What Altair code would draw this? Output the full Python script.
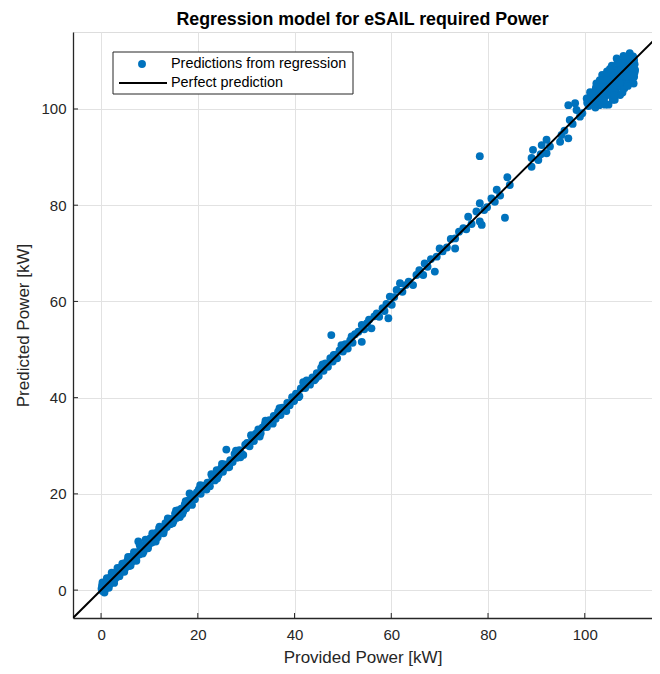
import altair as alt
import pandas as pd

# ---- data (Provided kW, Predicted kW) ----
seg_0_10 = [(0.1,0.3),(0.2,0.9),(0.3,-0.2),(0.4,0.5),(0.5,1.2),(0.6,0.1),(0.8,0.7),(0.9,1.5),(1.0,0.4),(1.1,1.0),
            (1.3,1.8),(1.4,0.8),(1.5,1.3),(1.7,2.4),(1.8,1.2),(2.0,2.0),(2.1,2.9),(2.3,1.7),(2.5,2.6),(2.6,3.4),
            (2.8,2.2),(3.0,3.1),(3.2,3.8),(3.3,2.7),(3.5,3.4),(3.7,4.3),(3.9,3.5),(4.1,4.0),(4.3,4.9),(4.5,3.9),
            (4.7,4.6),(4.9,5.6),(5.1,4.7),(5.3,5.4),(5.5,6.2),(5.8,5.0),(6.0,6.1),(6.2,6.9),(6.5,6.0),(6.7,6.8),
            (7.0,7.5),(7.2,6.6),(7.5,7.9),(7.7,10.1),(7.9,7.4),(8.2,8.6),(8.5,9.1),(8.8,8.0),(9.0,9.4),(9.3,8.9),
            (9.6,10.2),(9.9,9.5),
            (0.3,1.6),(0.7,-0.5),(1.2,2.5),(1.6,0.5),(2.2,3.6),(2.7,1.5),(3.4,4.6),(3.8,2.9),(4.4,5.5),(4.8,3.8),
            (5.6,6.9),(6.1,5.1),(6.8,7.9),(7.3,6.1),(8.0,9.3),(8.6,7.6),(9.2,10.5),(9.7,8.7)]
seg_10_30 = [(10.2,10.8),(10.5,9.9),(10.8,11.1),(11.1,10.5),(11.4,11.9),(11.7,11.0),(12.1,13.2),(12.4,12.0),
             (12.7,12.9),(13.0,12.4),(13.3,13.9),(13.6,13.1),(14.0,14.5),(14.3,13.7),(14.6,14.8),(15.0,14.4),
             (15.3,15.9),(15.6,15.0),(16.0,16.6),(16.3,15.2),(16.6,16.9),(17.0,16.4),(17.3,17.8),(17.6,17.0),
             (18.0,18.6),(18.3,20.1),(18.6,18.1),(19.0,19.5),(19.4,18.9),(19.8,20.3),
             (20.2,20.9),(20.6,20.0),(21.0,21.7),(21.5,21.1),(22.0,22.3),(22.5,21.6),(23.0,23.5),(23.5,22.8),
             (23.9,24.9),(24.3,23.9),(24.8,25.3),(25.2,24.6),(25.6,26.1),(25.9,29.2),(26.2,25.5),(26.7,27.0),
             (27.2,26.6),(27.6,28.3),(28.1,27.5),(28.6,29.1),(29.0,28.4),(29.4,28.1),(29.8,30.2),
             (10.6,11.8),(11.3,10.1),(12.0,12.8),(12.9,11.8),(13.8,14.9),(14.8,13.9),(15.5,16.5),(16.8,15.8),
             (17.5,18.5),(18.8,17.7),(20.5,21.8),(21.8,20.9),(22.8,24.1),(24.0,23.2),(25.0,26.2),(26.5,25.6),
             (27.9,29.0),(28.8,27.6)]
seg_30_60 = [(30.2,30.6),(30.7,29.9),(31.2,31.8),(31.6,31.0),(32.0,32.5),(32.5,33.4),(33.0,32.6),(33.4,33.8),
             (33.9,34.6),(34.3,33.9),(34.8,35.3),(35.3,34.7),(35.7,36.2),(36.1,35.6),(36.6,37.1),(37.1,36.4),
             (37.5,37.9),(38.0,37.6),(38.5,38.9),(39.0,38.4),(39.5,40.1),(39.9,39.3),
             (40.3,40.8),(40.8,40.1),(41.3,41.9),(41.8,43.2),(42.2,42.0),(42.7,43.0),(43.2,42.7),(43.7,44.2),
             (44.1,43.6),(44.6,45.1),(45.0,44.5),(45.5,46.2),(46.0,45.6),(46.4,47.1),(46.9,46.4),(47.4,48.2),
             (47.6,53.0),(47.9,47.5),(48.4,48.9),(48.8,48.2),(49.3,49.8),(49.7,50.9),(50.0,49.6),
             (50.5,51.1),(51.0,50.2),(51.5,51.9),(52.0,51.4),(52.5,53.2),(53.2,53.7),(53.9,55.1),(53.9,51.6),
             (54.4,54.2),(55.0,55.5),(55.9,54.4),(56.5,56.9),(57.0,57.5),(57.5,56.8),(58.2,58.6),(59.0,59.5),
             (59.4,56.5),(59.7,61.0),
             (31.0,32.2),(32.8,31.9),(34.0,35.2),(35.5,34.6),(36.9,37.8),(38.3,37.2),(41.0,40.3),(42.5,43.6),
             (44.4,44.0),(45.8,46.9),(48.1,48.9),(51.8,52.7),(55.4,56.2),(58.6,58.0)]
seg_60_100 = [(60.1,59.3),(60.6,60.9),(61.1,62.4),(61.8,63.8),(62.3,62.0),(63.0,63.4),(63.6,64.1),(64.5,63.4),
              (65.2,65.5),(65.8,66.5),(66.6,65.5),(66.9,67.9),(67.5,67.2),(68.2,68.8),(69.0,66.2),(69.4,69.3),
              (70.0,71.0),(70.6,70.4),(71.5,71.2),(72.3,73.0),(73.2,73.1),(73.2,71.0),(74.0,74.5),(74.9,75.2),
              (75.5,75.0),(75.9,77.6),(76.6,76.1),(77.6,78.7),(78.3,76.6),(78.7,75.9),(78.3,80.4),(78.3,90.2),
              (79.2,79.0),(79.8,79.6),(80.7,81.4),(81.4,80.7),(81.8,83.2),(82.5,82.0),(83.5,77.4),(84.0,85.8),
              (84.5,84.2),(89.0,88.0),(89.0,89.8),(89.3,91.5),(90.4,89.4),(90.9,90.6),(91.1,92.5),(92.1,93.6),
              (92.1,90.8),(92.8,92.2),(94.9,93.2),(95.2,94.6),(95.8,95.5),(96.6,93.9),(96.9,97.7),(97.5,96.9),
              (98.3,99.8),(96.6,100.8),(98.0,101.2),(99.0,98.4),(99.5,99.1)]
seg_100_111 = [(100.4,102.2),(102.8,101.2),(100.5,101.3),(100.8,100.6),(101.0,102.4),(101.2,101.0),(101.4,103.1),
               (101.6,101.8),(101.8,100.9),(102.0,103.6),(102.1,102.2),(102.3,104.4),(102.5,101.6),(102.6,103.0),
               (102.8,101.2),(102.9,104.9),(103.1,102.7),(103.2,103.9),(103.4,105.8),(103.5,102.1),(103.6,107.1),
               (103.8,104.3),(103.9,103.0),(104.1,105.5),(104.2,102.6),(104.4,104.8),(104.5,106.4),(104.7,103.5),
               (104.8,105.9),(105.0,104.2),(105.1,107.0),(105.3,102.9),(105.4,105.3),(105.6,106.6),(105.8,101.9),
               (105.9,104.7),(106.0,107.8),(106.2,105.8),(106.3,103.8),(106.5,106.9),(106.6,110.5),(106.7,104.9),
               (106.9,108.4),(107.0,106.1),(107.1,109.3),(107.3,102.9),(107.4,107.4),(107.5,104.6),(107.7,108.9),
               (107.8,105.7),(107.9,109.9),(108.1,106.7),(108.2,104.3),(108.4,108.1),(108.5,110.4),(108.6,105.9),
               (108.8,107.5),(108.9,109.4),(109.0,106.4),(109.2,110.8),(109.3,111.6),(109.4,108.2),(109.5,105.6),
               (109.6,109.8),(109.7,107.1),(109.8,110.9),(109.9,106.3),(110.0,108.9),(110.1,105.3),(110.2,110.2),
               (110.3,107.6),(110.4,108.1),(103.0,100.8),(104.0,101.5),(102.2,100.3),(106.2,101.9),(107.8,103.4),
               (108.9,104.8),(101.1,103.5),(102.4,105.3),(104.6,107.8),(105.6,109.0),(106.8,109.7),(104.9,100.9),
               (101.3,102.0),(101.9,102.9),(102.7,102.3),(103.3,104.6),(103.7,103.4),(104.3,106.0),(104.8,104.4),
               (105.2,106.0),(105.7,104.0),(106.1,106.9),(106.4,105.1),(106.9,107.6),(107.2,105.4),(107.6,108.2),
               (107.9,107.0),(108.3,109.3),(108.7,106.8),(109.1,108.9),(109.4,110.3),(109.7,108.6),(110.0,110.9),
               (110.2,106.7),(105.2,108.3),(103.1,106.0),(104.2,100.9),(108.0,111.0),(106.0,102.9),(110.3,109.3)]

tick_values = [0, 20, 40, 60, 80, 100]
x_domain = [-5.8, 113.9]
y_domain = [-5.8, 116.0]
perfect_line = [-5.8, 116.0]

legend_labels = ["Predictions from regression", "Perfect prediction"]
title_text = "Regression model for eSAIL required Power"
x_title = "Provided Power [kW]"
y_title = "Predicted Power [kW]"

BLUE = "#0072BD"
AX = "#262626"
GRID = "#e2e2e2"
FONT = "Liberation Sans"
W, H = 579, 586

pairs = seg_0_10 + seg_10_30 + seg_30_60 + seg_60_100 + seg_100_111
pts = pd.DataFrame(pairs, columns=["provided", "predicted"])
line_df = pd.DataFrame({"provided": perfect_line, "predicted": perfect_line})
ticks_df = pd.DataFrame({"v": tick_values})
one = pd.DataFrame({"a": [0]})

xs = alt.Scale(domain=x_domain, nice=False, zero=False)
ys = alt.Scale(domain=y_domain, nice=False, zero=False)

x_axis = alt.Axis(values=tick_values, grid=True, gridColor=GRID, gridWidth=1, domainColor=AX, domainWidth=1.3,
                  ticks=False, labelFont=FONT, labelFontSize=15, labelColor=AX, labelPadding=9,
                  title=x_title, titleFont=FONT, titleFontSize=17, titleFontWeight="normal", titleColor=AX,
                  titlePadding=7)
y_axis = alt.Axis(values=tick_values, grid=True, gridColor=GRID, gridWidth=1, domainColor=AX, domainWidth=1.3,
                  ticks=False, labelFont=FONT, labelFontSize=15, labelColor=AX, labelPadding=7,
                  title=y_title, titleFont=FONT, titleFontSize=17, titleFontWeight="normal", titleColor=AX,
                  titlePadding=8)

points = alt.Chart(pts).mark_circle(size=62, color=BLUE, opacity=1).encode(
    x=alt.X("provided:Q", scale=xs, axis=x_axis),
    y=alt.Y("predicted:Q", scale=ys, axis=y_axis),
)

line = alt.Chart(line_df).mark_line(color="black", strokeWidth=2, clip=True).encode(
    x=alt.X("provided:Q", scale=xs),
    y=alt.Y("predicted:Q", scale=ys),
)

xticks = alt.Chart(ticks_df).mark_rule(color=AX, strokeWidth=1).encode(
    x=alt.X("v:Q", scale=xs), y=alt.value(H), y2=alt.value(H - 5))
yticks = alt.Chart(ticks_df).mark_rule(color=AX, strokeWidth=1).encode(
    y=alt.Y("v:Q", scale=ys), x=alt.value(0), x2=alt.value(5))

# legend box (pixel positions inside the plot area)
leg_box = alt.Chart(one).mark_rect(fill="white", stroke=AX, strokeWidth=1).encode(
    x=alt.value(40), x2=alt.value(280), y=alt.value(20), y2=alt.value(62))
leg_dot = alt.Chart(one).mark_circle(size=62, color=BLUE, opacity=1).encode(
    x=alt.value(69), y=alt.value(32))
leg_line = alt.Chart(one).mark_rule(color="black", strokeWidth=2).encode(
    x=alt.value(46), x2=alt.value(94), y=alt.value(51))
leg_txt1 = alt.Chart(one).mark_text(align="left", baseline="middle", font=FONT, fontSize=14.4, color="black").encode(
    x=alt.value(98), y=alt.value(32), text=alt.value(legend_labels[0]))
leg_txt2 = alt.Chart(one).mark_text(align="left", baseline="middle", font=FONT, fontSize=14.4, color="black").encode(
    x=alt.value(98), y=alt.value(51), text=alt.value(legend_labels[1]))

chart = alt.layer(points, line, xticks, yticks, leg_box, leg_dot, leg_line, leg_txt1, leg_txt2).properties(
    width=W, height=H,
    title=alt.TitleParams(title_text, font=FONT, fontSize=17.8, fontWeight="bold", color="black",
                          anchor="middle", offset=3),
    autosize=alt.AutoSizeParams(type="none"),
    padding={"left": 65, "top": 24, "right": 0, "bottom": 50},
).configure_view(stroke=None).configure(background="white")

chart.save("out.html", embed_options={"renderer": "svg", "actions": False})
